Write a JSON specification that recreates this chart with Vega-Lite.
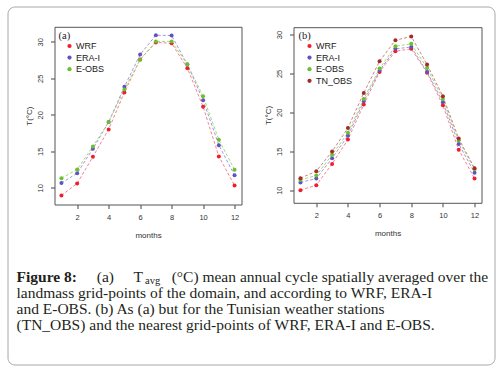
{
  "$schema": "https://vega.github.io/schema/vega-lite/v6.json",
  "background": "white",
  "padding": {"left": 7.5, "top": 6.5, "right": 4, "bottom": 5},
  "width": 487,
  "height": 358,
  "view": {"stroke": "#a8a8a8", "strokeWidth": 1, "cornerRadius": 7},
  "config": {
    "font": "Liberation Sans",
    "axis": {"domain": true, "domainColor": "#555", "domainWidth": 1, "grid": false, "tickColor": "#444", "tickSize": 4, "labelFont": "Liberation Sans", "labelFontSize": 7.5, "labelColor": "#333", "titleFont": "Liberation Sans", "titleFontSize": 8, "titleFontWeight": "normal", "titleColor": "#333"},
    "axisX": {"labelPadding": 5, "titlePadding": 10},
    "axisY": {"labelAngle": -90, "labelAlign": "center", "labelBaseline": "bottom", "labelPadding": 6, "titlePadding": 3},
    "legend": {"padding": 0, "titleFont": "Liberation Serif", "titleFontSize": 10.5, "titleFontWeight": "normal", "titleColor": "#222", "titlePadding": 0, "labelFont": "Liberation Sans", "labelFontSize": 9, "labelColor": "#222", "symbolType": "circle", "symbolSize": 18, "symbolOffset": 6.5, "labelOffset": 2, "rowPadding": 1.6, "symbolStrokeWidth": 0}
  },
  "datasets": {
    "a": [
      {"source": "WRF", "month": 1, "t": 8.95}, {"source": "WRF", "month": 2, "t": 10.6}, {"source": "WRF", "month": 3, "t": 14.25}, {"source": "WRF", "month": 4, "t": 18.0}, {"source": "WRF", "month": 5, "t": 23.06}, {"source": "WRF", "month": 6, "t": 27.58}, {"source": "WRF", "month": 7, "t": 29.9}, {"source": "WRF", "month": 8, "t": 29.8}, {"source": "WRF", "month": 9, "t": 26.38}, {"source": "WRF", "month": 10, "t": 21.1}, {"source": "WRF", "month": 11, "t": 14.3}, {"source": "WRF", "month": 12, "t": 10.3},
      {"source": "ERA-I", "month": 1, "t": 10.64}, {"source": "ERA-I", "month": 2, "t": 12.0}, {"source": "ERA-I", "month": 3, "t": 15.34}, {"source": "ERA-I", "month": 4, "t": 19.0}, {"source": "ERA-I", "month": 5, "t": 23.84}, {"source": "ERA-I", "month": 6, "t": 28.25}, {"source": "ERA-I", "month": 7, "t": 30.9}, {"source": "ERA-I", "month": 8, "t": 30.85}, {"source": "ERA-I", "month": 9, "t": 26.9}, {"source": "ERA-I", "month": 10, "t": 22.0}, {"source": "ERA-I", "month": 11, "t": 15.84}, {"source": "ERA-I", "month": 12, "t": 11.72},
      {"source": "E-OBS", "month": 1, "t": 11.32}, {"source": "E-OBS", "month": 2, "t": 12.5}, {"source": "E-OBS", "month": 3, "t": 15.66}, {"source": "E-OBS", "month": 4, "t": 19.0}, {"source": "E-OBS", "month": 5, "t": 23.47}, {"source": "E-OBS", "month": 6, "t": 27.55}, {"source": "E-OBS", "month": 7, "t": 30.05}, {"source": "E-OBS", "month": 8, "t": 30.05}, {"source": "E-OBS", "month": 9, "t": 26.93}, {"source": "E-OBS", "month": 10, "t": 22.53}, {"source": "E-OBS", "month": 11, "t": 16.58}, {"source": "E-OBS", "month": 12, "t": 12.48}
    ],
    "b": [
      {"source": "WRF", "month": 1, "t": 10.0}, {"source": "WRF", "month": 2, "t": 10.64}, {"source": "WRF", "month": 3, "t": 13.38}, {"source": "WRF", "month": 4, "t": 16.51}, {"source": "WRF", "month": 5, "t": 21.0}, {"source": "WRF", "month": 6, "t": 25.2}, {"source": "WRF", "month": 7, "t": 27.86}, {"source": "WRF", "month": 8, "t": 28.16}, {"source": "WRF", "month": 9, "t": 25.1}, {"source": "WRF", "month": 10, "t": 20.9}, {"source": "WRF", "month": 11, "t": 15.2}, {"source": "WRF", "month": 12, "t": 11.5},
      {"source": "ERA-I", "month": 1, "t": 11.0}, {"source": "ERA-I", "month": 2, "t": 11.5}, {"source": "ERA-I", "month": 3, "t": 14.1}, {"source": "ERA-I", "month": 4, "t": 17.0}, {"source": "ERA-I", "month": 5, "t": 21.43}, {"source": "ERA-I", "month": 6, "t": 25.37}, {"source": "ERA-I", "month": 7, "t": 28.16}, {"source": "ERA-I", "month": 8, "t": 28.4}, {"source": "ERA-I", "month": 9, "t": 25.2}, {"source": "ERA-I", "month": 10, "t": 21.3}, {"source": "ERA-I", "month": 11, "t": 15.95}, {"source": "ERA-I", "month": 12, "t": 12.23},
      {"source": "E-OBS", "month": 1, "t": 11.3}, {"source": "E-OBS", "month": 2, "t": 11.9}, {"source": "E-OBS", "month": 3, "t": 14.54}, {"source": "E-OBS", "month": 4, "t": 17.37}, {"source": "E-OBS", "month": 5, "t": 21.73}, {"source": "E-OBS", "month": 6, "t": 25.63}, {"source": "E-OBS", "month": 7, "t": 28.5}, {"source": "E-OBS", "month": 8, "t": 28.8}, {"source": "E-OBS", "month": 9, "t": 25.7}, {"source": "E-OBS", "month": 10, "t": 21.73}, {"source": "E-OBS", "month": 11, "t": 16.38}, {"source": "E-OBS", "month": 12, "t": 12.7},
      {"source": "TN_OBS", "month": 1, "t": 11.54}, {"source": "TN_OBS", "month": 2, "t": 12.44}, {"source": "TN_OBS", "month": 3, "t": 14.97}, {"source": "TN_OBS", "month": 4, "t": 18.0}, {"source": "TN_OBS", "month": 5, "t": 22.5}, {"source": "TN_OBS", "month": 6, "t": 26.57}, {"source": "TN_OBS", "month": 7, "t": 29.27}, {"source": "TN_OBS", "month": 8, "t": 29.75}, {"source": "TN_OBS", "month": 9, "t": 26.14}, {"source": "TN_OBS", "month": 10, "t": 22.07}, {"source": "TN_OBS", "month": 11, "t": 16.63}, {"source": "TN_OBS", "month": 12, "t": 12.83}
    ],
    "caption": [
      {"line": 1, "part": "bold", "text": "Figure 8:"},
      {"line": 1, "part": "a", "text": "(a)"},
      {"line": 1, "part": "T", "text": "T"},
      {"line": 1, "part": "sub", "text": "avg"},
      {"line": 1, "part": "rest", "text": "(°C) mean annual cycle spatially averaged over the"},
      {"line": 2, "part": "body", "text": "landmass grid-points of the domain, and according to WRF, ERA-I"},
      {"line": 3, "part": "body", "text": "and E-OBS. (b) As (a) but for the Tunisian weather stations"},
      {"line": 4, "part": "body", "text": "(TN_OBS) and the nearest grid-points of WRF, ERA-I and E-OBS."}
    ]
  },
  "resolve": {"scale": {"x": "independent", "y": "independent", "color": "independent", "stroke": "independent"}, "axis": {"x": "independent", "y": "independent"}, "legend": {"color": "independent"}},
  "layer": [
    {
      "data": {"name": "a"},
      "encoding": {
        "x": {"field": "month", "type": "quantitative", "scale": {"domain": [0.56, 12.44], "range": [47, 234], "nice": false, "zero": false}, "axis": {"orient": "bottom", "offset": -160, "values": [2, 4, 6, 8, 10, 12], "format": "d", "title": "months"}},
        "y": {"field": "t", "type": "quantitative", "scale": {"domain": [7.71, 32.05], "range": [198, 20.3], "nice": false, "zero": false}, "axis": {"orient": "left", "offset": -47, "values": [10, 15, 20, 25, 30], "format": "d", "title": "T(°C)"}}
      },
      "layer": [
        {"mark": {"type": "line", "strokeWidth": 1, "strokeDash": [3, 2]},
         "encoding": {"stroke": {"field": "source", "type": "nominal", "scale": {"domain": ["E-OBS", "ERA-I", "WRF"], "range": ["#a3d977", "#a196e0", "#f5838b"]}, "legend": null}}},
        {"mark": {"type": "point", "filled": true, "size": 16, "opacity": 1},
         "encoding": {"color": {"field": "source", "type": "nominal", "scale": {"domain": ["WRF", "ERA-I", "E-OBS"], "range": ["#f21d2b", "#6252c0", "#6cc02e"]}, "legend": {"title": "(a)", "orient": "none", "legendX": 51, "legendY": 24.5}}}}
      ]
    },
    {
      "data": {"name": "a"},
      "transform": [{"filter": "datum.month == 1 && datum.source == 'WRF'"}],
      "mark": {"type": "point", "opacity": 0, "size": 1},
      "encoding": {
        "x": {"field": "month", "type": "quantitative", "scale": {"domain": [0.56, 12.44], "range": [47, 234], "nice": false, "zero": false}, "axis": {"orient": "top", "offset": -20.3, "domain": true, "domainColor": "#555", "ticks": false, "labels": false, "title": null}},
        "y": {"field": "t", "type": "quantitative", "scale": {"domain": [7.71, 32.05], "range": [198, 20.3], "nice": false, "zero": false}, "axis": {"orient": "right", "offset": -253, "domain": true, "domainColor": "#555", "ticks": false, "labels": false, "title": null}}
      }
    },
    {
      "data": {"name": "b"},
      "encoding": {
        "x": {"field": "month", "type": "quantitative", "scale": {"domain": [0.56, 12.44], "range": [286, 474], "nice": false, "zero": false}, "axis": {"orient": "bottom", "offset": -161.7, "values": [2, 4, 6, 8, 10, 12], "format": "d", "title": "months"}},
        "y": {"field": "t", "type": "quantitative", "scale": {"domain": [8.38, 30.94], "range": [196.3, 20.7], "nice": false, "zero": false}, "axis": {"orient": "left", "offset": -286, "values": [10, 15, 20, 25, 30], "format": "d", "title": "T(°C)"}}
      },
      "layer": [
        {"mark": {"type": "line", "strokeWidth": 1, "strokeDash": [3, 2]},
         "encoding": {"stroke": {"field": "source", "type": "nominal", "scale": {"domain": ["E-OBS", "ERA-I", "TN_OBS", "WRF"], "range": ["#a3d977", "#a196e0", "#cf8585", "#f5838b"]}, "legend": null}}},
        {"mark": {"type": "point", "filled": true, "size": 16, "opacity": 1},
         "encoding": {"color": {"field": "source", "type": "nominal", "scale": {"domain": ["WRF", "ERA-I", "E-OBS", "TN_OBS"], "range": ["#f21d2b", "#6252c0", "#6cc02e", "#a52a2a"]}, "legend": {"title": "(b)", "orient": "none", "legendX": 291, "legendY": 24.5}}}}
      ]
    },
    {
      "data": {"name": "b"},
      "transform": [{"filter": "datum.month == 1 && datum.source == 'WRF'"}],
      "mark": {"type": "point", "opacity": 0, "size": 1},
      "encoding": {
        "x": {"field": "month", "type": "quantitative", "scale": {"domain": [0.56, 12.44], "range": [286, 474], "nice": false, "zero": false}, "axis": {"orient": "top", "offset": -20.7, "domain": true, "domainColor": "#555", "ticks": false, "labels": false, "title": null}},
        "y": {"field": "t", "type": "quantitative", "scale": {"domain": [8.38, 30.94], "range": [196.3, 20.7], "nice": false, "zero": false}, "axis": {"orient": "right", "offset": -13, "domain": true, "domainColor": "#555", "ticks": false, "labels": false, "title": null}}
      }
    },
    {
      "data": {"name": "caption"},
      "encoding": {
        "x": {"datum": 0, "type": "quantitative", "scale": {"domain": [0, 1], "range": [0, 487]}, "axis": null},
        "y": {"field": "line", "type": "quantitative", "scale": {"domain": [-15.994, 6.105], "reverse": true, "nice": false, "zero": false}, "axis": null},
        "text": {"field": "text"}
      },
      "layer": [
        {"transform": [{"filter": "datum.part == 'bold'"}], "mark": {"type": "text", "align": "left", "baseline": "alphabetic", "font": "Liberation Serif", "fontSize": 15.5, "fontWeight": "bold", "color": "#231f20", "dx": 9}},
        {"transform": [{"filter": "datum.part == 'a'"}], "mark": {"type": "text", "align": "left", "baseline": "alphabetic", "font": "Liberation Serif", "fontSize": 15.5, "color": "#231f20", "dx": 89.3}},
        {"transform": [{"filter": "datum.part == 'T'"}], "mark": {"type": "text", "align": "left", "baseline": "alphabetic", "font": "Liberation Serif", "fontSize": 15.5, "color": "#231f20", "dx": 126}},
        {"transform": [{"filter": "datum.part == 'sub'"}], "mark": {"type": "text", "align": "left", "baseline": "alphabetic", "font": "Liberation Serif", "fontSize": 10.5, "color": "#231f20", "dx": 137.5, "dy": 2.5}},
        {"transform": [{"filter": "datum.part == 'rest'"}], "mark": {"type": "text", "align": "left", "baseline": "alphabetic", "font": "Liberation Serif", "fontSize": 15.5, "color": "#231f20", "dx": 164.2}},
        {"transform": [{"filter": "datum.part == 'body'"}], "mark": {"type": "text", "align": "left", "baseline": "alphabetic", "font": "Liberation Serif", "fontSize": 15.5, "color": "#231f20", "dx": 9}}
      ]
    }
  ]
}
